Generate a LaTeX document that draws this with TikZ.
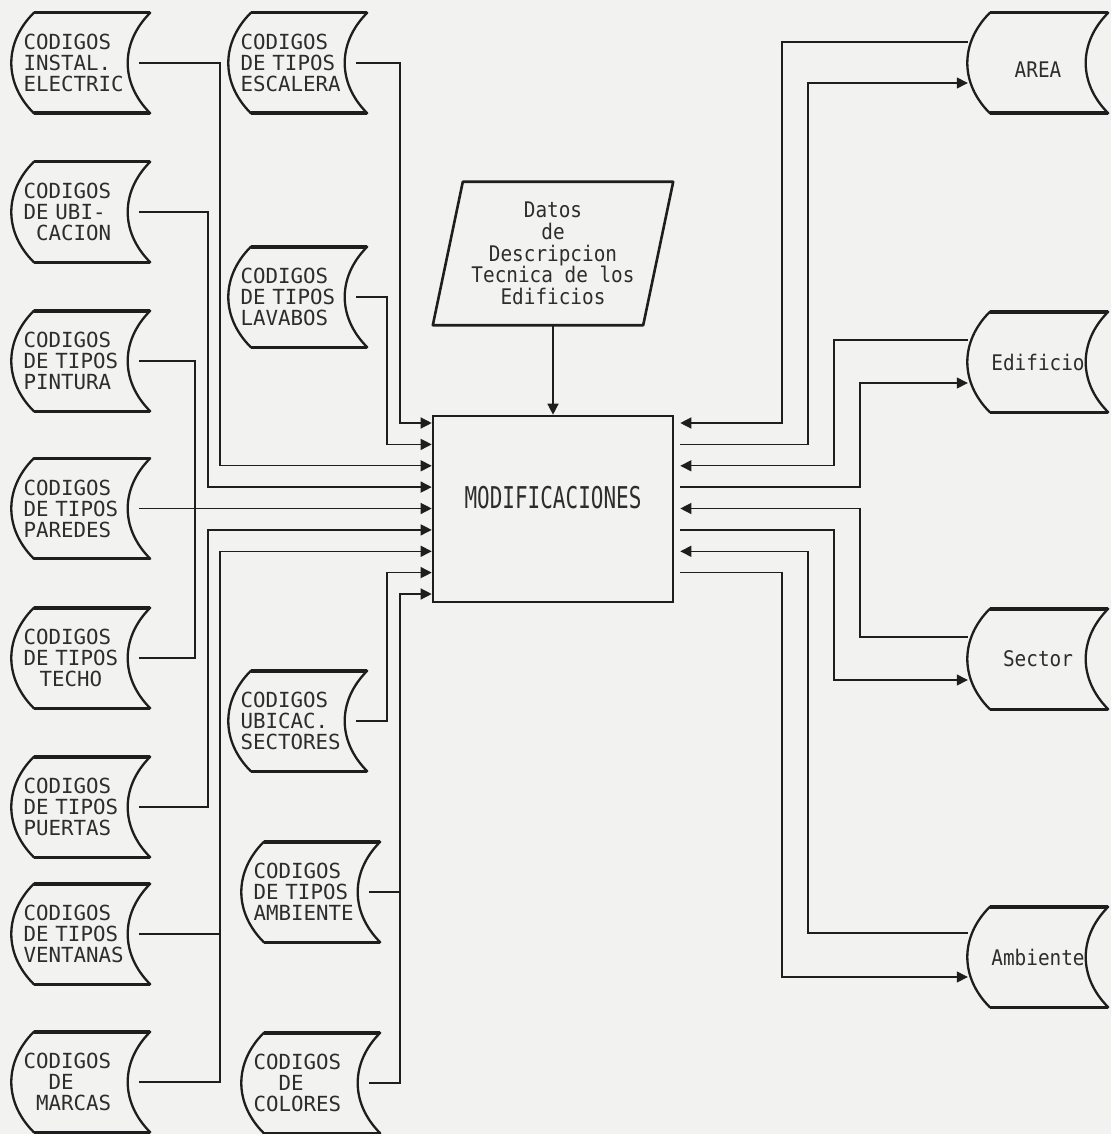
\documentclass[tikz,border=0pt]{standalone}
\usepackage{fontspec}
\newfontfamily\dotA{DejaVu Sans Mono}
\newfontfamily\dotB[FakeStretch=0.90]{DejaVu Sans Mono}
\newfontfamily\dotC[FakeStretch=0.70]{DejaVu Sans Mono}
\usetikzlibrary{arrows.meta,calc}
\definecolor{paper}{RGB}{242,242,240}
\definecolor{ink}{RGB}{30,30,30}
\definecolor{txt}{RGB}{45,45,45}
\tikzset{
  store/.style={minimum height=100pt, inner ysep=0pt, inner xsep=11.5pt, text width=115pt, align=left,
    font=\dotA\fontsize{20.8}{21}\selectfont, text=txt},
  rstore/.style={minimum width=140pt, minimum height=100pt, inner sep=0pt,
    font=\dotB\fontsize{21.5}{21.7}\selectfont, text=txt},
  outline/.style={draw=ink, line width=2.3pt, line join=round},
  edge/.style={draw=ink, line width=3.4pt},
  conn/.style={draw=ink, line width=1.3pt},
  arr/.style={conn, -{Triangle[length=11pt,width=11pt]}},
}
\newcommand\rtext[1]{\makebox[119pt]{#1}\hspace{21pt}}
\newcommand\drawstore[1]{%
  \draw[outline] ([xshift=22pt]#1.north west) -- (#1.north east)
    .. controls ([xshift=-30pt,yshift=-30pt]#1.north east) and ([xshift=-30pt,yshift=30pt]#1.south east) .. (#1.south east)
    -- ([xshift=22pt]#1.south west)
    .. controls ([xshift=-8pt,yshift=30pt]#1.south west) and ([xshift=-8pt,yshift=-30pt]#1.north west) .. ([xshift=22pt]#1.north west) -- cycle;
  \draw[edge] ([xshift=22pt]#1.north west) -- (#1.north east);
  \draw[edge] ([xshift=22pt]#1.south west) -- (#1.south east);}
\begin{document}
\begin{tikzpicture}[x=1pt,y=-1pt]
\fill[paper] (0,0) rectangle (1111,1134);
\useasboundingbox (0,0) rectangle (1111,1134);

% left column
\node[store] (inst) at (81,63) {CODIGOS\\INSTAL.\\ELECTRIC};
\node[store] (ubic) at (81,212) {CODIGOS\\DE UBI-\\\phantom{C}CACION};
\node[store] (pint) at (81,361) {CODIGOS\\DE TIPOS\\PINTURA};
\node[store] (pare) at (81,508.5) {CODIGOS\\DE TIPOS\\PAREDES};
\node[store] (tech) at (81,658) {CODIGOS\\DE TIPOS\\\hspace*{16pt}TECHO};
\node[store] (puer) at (81,807) {CODIGOS\\DE TIPOS\\PUERTAS};
\node[store] (vent) at (81,934) {CODIGOS\\DE TIPOS\\VENTANAS};
\node[store] (marc) at (81,1082) {CODIGOS\\\phantom{CO}DE\\\phantom{C}MARCAS};
% second column
\node[store] (esca) at (298,63) {CODIGOS\\DE TIPOS\\ESCALERA};
\node[store] (lava) at (298,297) {CODIGOS\\DE TIPOS\\LAVABOS};
\node[store] (sect) at (298,721) {CODIGOS\\UBICAC.\\SECTORES};
\node[store] (ambc) at (311,892) {CODIGOS\\DE TIPOS\\AMBIENTE};
\node[store] (colo) at (311,1083) {CODIGOS\\\phantom{CO}DE\\COLORES};
% right column
\node[rstore, text height=30pt] (area) at (1038,63) {\rtext{AREA}};
\node[rstore] (edif) at (1038,362) {\rtext{Edificio}};
\node[rstore] (sector) at (1038,659) {\rtext{Sector}};
\node[rstore] (ambr) at (1038,957) {\rtext{Ambiente}};

\foreach \n in {inst,ubic,pint,pare,tech,puer,vent,marc,esca,lava,sect,ambc,colo,area,edif,sector,ambr}
  {\drawstore{\n}}

% central process
\node[draw=ink, line width=2.6pt, minimum width=240pt, minimum height=186pt, inner sep=0pt,
  font=\dotC\fontsize{30}{30}\selectfont, text=txt, text depth=24pt] (mod) at (553,509)
  {MODIFICACIONES\hspace{12pt}};

% input data
\node[font=\dotB\fontsize{21.5}{21.7}\selectfont, align=center, text=txt,
  minimum width=210pt, minimum height=143pt, inner sep=0pt] (datos) at (553,253.5)
  {Datos\\de\\Descripcion\\Tecnica de los\\Edificios};
\draw[outline, line width=2.6pt] ([xshift=-15pt]datos.south west) -- ([xshift=15pt]datos.north west)
  -- ([xshift=15pt]datos.north east) -- ([xshift=-15pt]datos.south east) -- cycle;
\draw[arr] (datos.south) -- (mod.north);

% left connectors
\draw[arr] ([xshift=-11pt]esca.east) -| (400,423) -- (mod.west |- 0,423);
\draw[arr] ([xshift=-11pt]lava.east) -| (387,444.4) -- (mod.west |- 0,444.4);
\draw[arr] ([xshift=-11pt]inst.east) -| (220,465.8) -- (mod.west |- 0,465.8);
\draw[arr] ([xshift=-11pt]ubic.east) -| (208,487.1) -- (mod.west |- 0,487.1);
\draw[conn] ([xshift=-11pt]pint.east) -| (195,508.5);
\draw[conn] ([xshift=-11pt]tech.east) -| (195,508.5);
\draw[arr] ([xshift=-11pt]pare.east) -- (mod.west |- pare.east);
\draw[arr] ([xshift=-11pt]puer.east) -| (208,529.9) -- (mod.west |- 0,529.9);
\draw[conn] ([xshift=-11pt]marc.east) -| (220,934);
\draw[arr] ([xshift=-11pt]vent.east) -| (220,551.3) -- (mod.west |- 0,551.3);
\draw[arr] ([xshift=-11pt]sect.east) -| (387,572.6) -- (mod.west |- 0,572.6);
\draw[conn] ([xshift=-11pt]colo.east) -| (400,892);
\draw[arr] ([xshift=-11pt]ambc.east) -| (400,594) -- (mod.west |- 0,594);

% right connectors
\draw[arr] (area.west |- 0,42) -| (782,423) -- ($(mod.east |- 0,423)+(6,0)$);
\draw[arr] ($(mod.east |- 0,444.4)+(6,0)$) -| (808,83) -- (area.west |- 0,83);
\draw[arr] (edif.west |- 0,340) -| (834,465.8) -- ($(mod.east |- 0,465.8)+(6,0)$);
\draw[arr] ($(mod.east |- 0,487.1)+(6,0)$) -| (860,383) -- (edif.west |- 0,383);
\draw[arr] (sector.west |- 0,637) -| (860,508.5) -- ($(mod.east |- 0,508.5)+(6,0)$);
\draw[arr] ($(mod.east |- 0,529.9)+(6,0)$) -| (834,680) -- (sector.west |- 0,680);
\draw[arr] (ambr.west |- 0,933) -| (808,551.3) -- ($(mod.east |- 0,551.3)+(6,0)$);
\draw[arr] ($(mod.east |- 0,572.6)+(6,0)$) -| (782,977) -- (ambr.west |- 0,977);
\end{tikzpicture}
\end{document}
